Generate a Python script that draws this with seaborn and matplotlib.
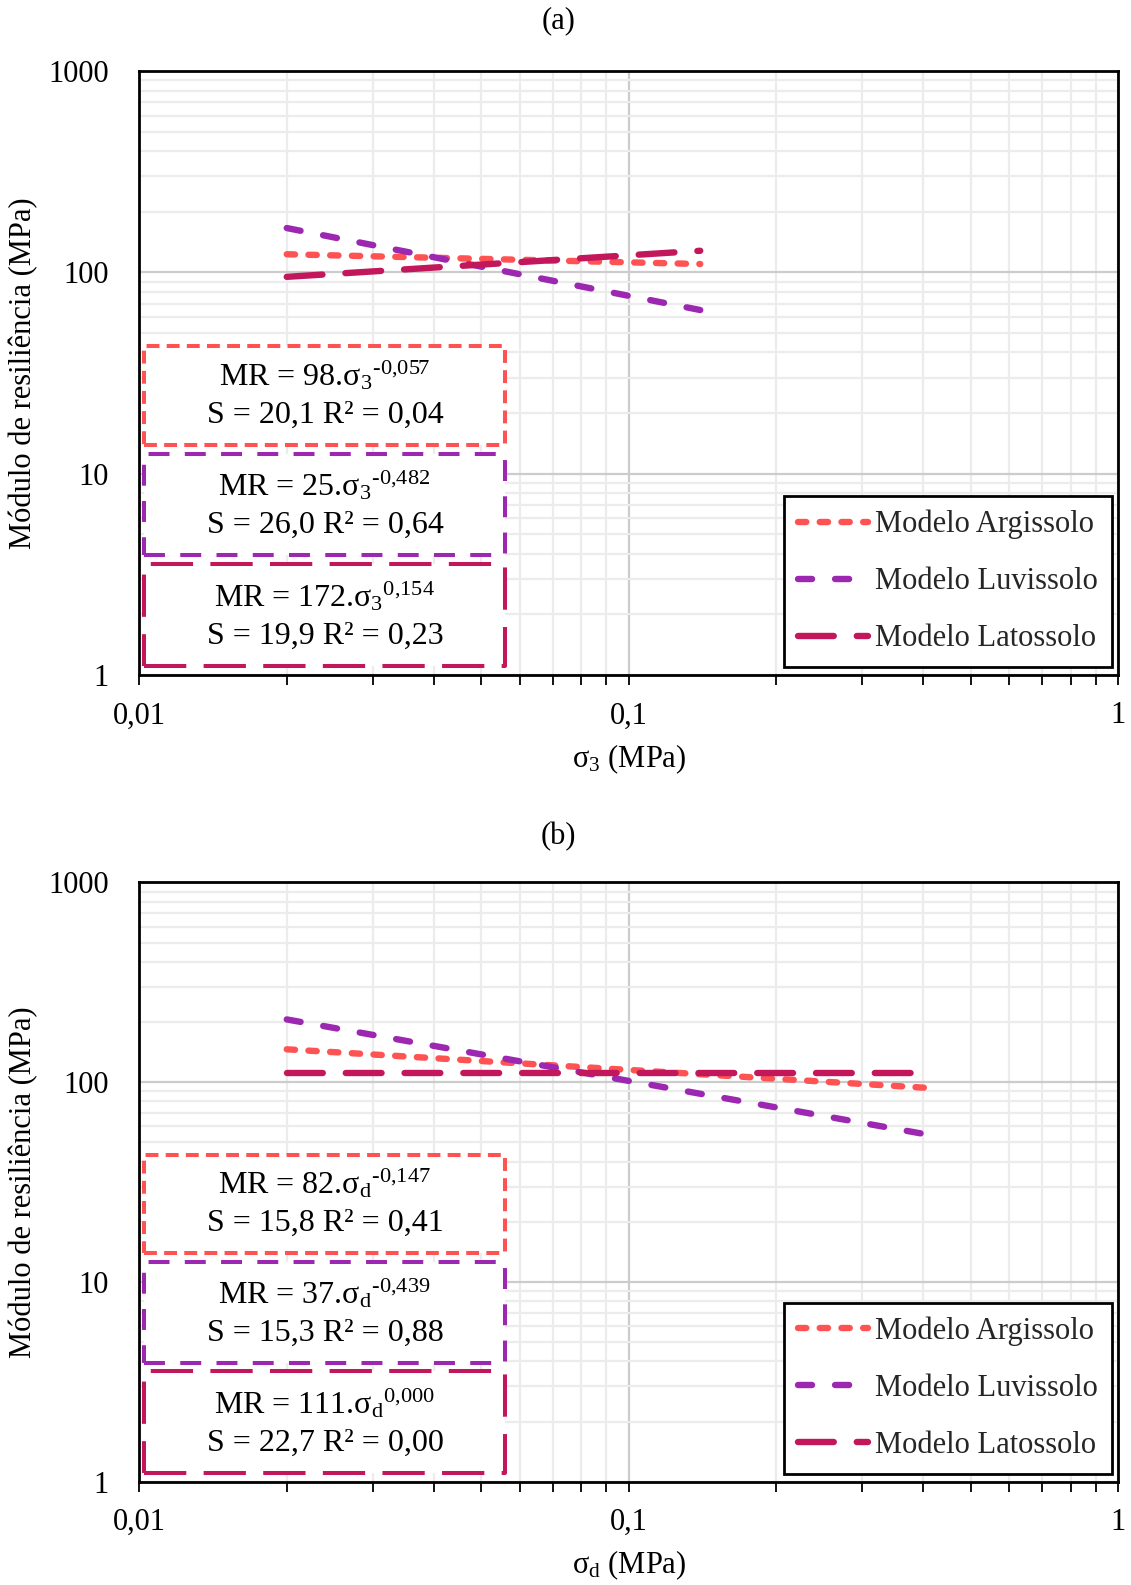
import matplotlib
matplotlib.use("Agg")
import matplotlib.pyplot as plt
import seaborn as sns
import pandas as pd
from matplotlib.patches import Rectangle
from matplotlib.ticker import LogLocator, FixedLocator, FuncFormatter, NullFormatter

# ---------------- data ----------------
model_names = ["Modelo Argissolo", "Modelo Luvissolo", "Modelo Latossolo"]
model_colors = ["#FF5252", "#9C27B0", "#C2185B"]

# panel (a): MR vs sigma_3
sigma3_arg = [0.02, 0.14]
mr3_arg = [123.0, 110.0]
sigma3_luv = [0.02, 0.14]
mr3_luv = [166.0, 65.0]
sigma3_lat = [0.02, 0.14]
mr3_lat = [95.0, 128.0]

# panel (b): MR vs sigma_d
sigmad_arg = [0.02, 0.41]
mrd_arg = [146.0, 93.5]
sigmad_luv = [0.02, 0.41]
mrd_luv = [206.0, 54.5]
sigmad_lat = [0.02, 0.38]
mrd_lat = [111.0, 111.0]

eq_a = ["MR = 98.σ$_{3}$$^{‐0{,}057}$", "MR = 25.σ$_{3}$$^{‐0{,}482}$", "MR = 172.σ$_{3}$$^{0{,}154}$"]
stat_a = ["S = 20,1 R² = 0,04", "S = 26,0 R² = 0,64", "S = 19,9 R² = 0,23"]
eq_b = ["MR = 82.σ$_{d}$$^{‐0{,}147}$", "MR = 37.σ$_{d}$$^{‐0{,}439}$", "MR = 111.σ$_{d}$$^{0{,}000}$"]
stat_b = ["S = 15,8 R² = 0,41", "S = 15,3 R² = 0,88", "S = 22,7 R² = 0,00"]

xtick_vals = [0.01, 0.1, 1]
xtick_labels = ["0,01", "0,1", "1"]
ytick_vals = [1, 10, 100, 1000]
ytick_labels = ["1", "10", "100", "1000"]

# ---------------- style ----------------
sns.set_theme(style="white")
plt.rcParams["font.family"] = ["Liberation Serif", "DejaVu Serif"]
plt.rcParams["mathtext.fontset"] = "custom"
plt.rcParams["mathtext.rm"] = "Liberation Serif"
plt.rcParams["mathtext.it"] = "Liberation Serif"
plt.rcParams["mathtext.default"] = "rm"

FS = 22
line_styles = [(0, (1.3, 2.1)), (0, (2.2, 3.6)), (0, (5.6, 3.6))]
box_styles = [(0, (3.2, 1.8)), (0, (5.2, 3.8)), (0, (10.5, 4.3))]
LW = 4.6

fig = plt.figure(figsize=(11.31, 15.85), dpi=100)
ax_a = fig.add_axes([0.1233, 0.5741, 0.8652, 0.3811])
ax_b = fig.add_axes([0.1233, 0.0652, 0.8652, 0.3781])


def draw_panel(ax, xs, ys, eqs, stats, xlab):
    for name, col, ls, x, y in zip(model_names, model_colors, line_styles, xs, ys):
        df = pd.DataFrame({"x": x, "y": y})
        sns.lineplot(data=df, x="x", y="y", ax=ax, color=col, lw=LW,
                     linestyle=ls, dash_capstyle="round", label=name, zorder=4)
    ax.set_xscale("log")
    ax.set_yscale("log")
    ax.set_xlim(0.01, 1)
    ax.set_ylim(1, 1000)

    ax.xaxis.set_major_locator(FixedLocator(xtick_vals))
    ax.xaxis.set_major_formatter(FuncFormatter(lambda v, p: dict(zip(xtick_vals, xtick_labels)).get(round(v, 4), "")))
    ax.xaxis.set_minor_locator(LogLocator(base=10, subs=[2, 3, 4, 5, 6, 7, 8, 9]))
    ax.xaxis.set_minor_formatter(NullFormatter())
    ax.yaxis.set_major_locator(FixedLocator(ytick_vals))
    ax.yaxis.set_major_formatter(FuncFormatter(lambda v, p: dict(zip(ytick_vals, ytick_labels)).get(int(round(v)), "")))
    ax.yaxis.set_minor_locator(LogLocator(base=10, subs=[2, 3, 4, 5, 6, 7, 8, 9]))
    ax.yaxis.set_minor_formatter(NullFormatter())

    ax.grid(which="major", color="#cccccc", lw=1.6, zorder=0)
    ax.grid(which="minor", color="#ececec", lw=1.6, zorder=0)
    ax.set_axisbelow(True)

    ax.tick_params(axis="x", which="both", direction="out", length=7, width=1.3,
                   color="black", bottom=True, labelsize=FS, pad=12, labelcolor="black")
    ax.tick_params(axis="y", which="both", length=0, labelsize=FS, pad=22, labelcolor="black")
    for sp in ax.spines.values():
        sp.set_color("black")
        sp.set_linewidth(2.0)
        sp.set_zorder(6)

    ax.set_xlabel(xlab, fontsize=FS, color="black")
    ax.xaxis.set_label_coords(0.5, -0.112)
    ax.set_ylabel("Módulo de resiliência (MPa)", fontsize=FS, color="black")
    ax.yaxis.set_label_coords(-0.103, 0.5)

    # equation boxes
    box_rows = [(0.381, 0.545), (0.198, 0.366), (0.015, 0.184)]
    for (y0, y1), col, bls, e, s in zip(box_rows, model_colors, box_styles, eqs, stats):
        r = Rectangle((0.005, y0), 0.3685, y1 - y0, transform=ax.transAxes,
                      facecolor="white", edgecolor=col, lw=2.9, linestyle=bls,
                      joinstyle="round", capstyle="butt", zorder=3)
        ax.add_patch(r)
        ax.text(0.189, y0 + 0.099, e, transform=ax.transAxes, ha="center",
                va="baseline", fontsize=23, color="black", zorder=5)
        ax.text(0.19, y0 + 0.037, s, transform=ax.transAxes, ha="center",
                va="baseline", fontsize=23, color="black", zorder=5)

    leg = ax.legend(loc="lower right", bbox_to_anchor=(0.994, 0.013), borderaxespad=0,
                    fontsize=FS, frameon=True, fancybox=False, framealpha=1,
                    edgecolor="black", handlelength=2.3, handletextpad=0.25,
                    labelspacing=0.92, borderpad=0.45)
    leg.get_frame().set_linewidth(2.0)
    leg.set_zorder(7)


draw_panel(ax_a, [sigma3_arg, sigma3_luv, sigma3_lat], [mr3_arg, mr3_luv, mr3_lat],
           eq_a, stat_a, "σ$_{3}$ (MPa)")
draw_panel(ax_b, [sigmad_arg, sigmad_luv, sigmad_lat], [mrd_arg, mrd_luv, mrd_lat],
           eq_b, stat_b, "σ$_{d}$ (MPa)")

fig.text(0.494, 0.987, "(a)", ha="center", va="center", fontsize=FS, color="black")
fig.text(0.494, 0.472, "(b)", ha="center", va="center", fontsize=FS, color="black")

fig.savefig("out.png", dpi=100, facecolor="white")
